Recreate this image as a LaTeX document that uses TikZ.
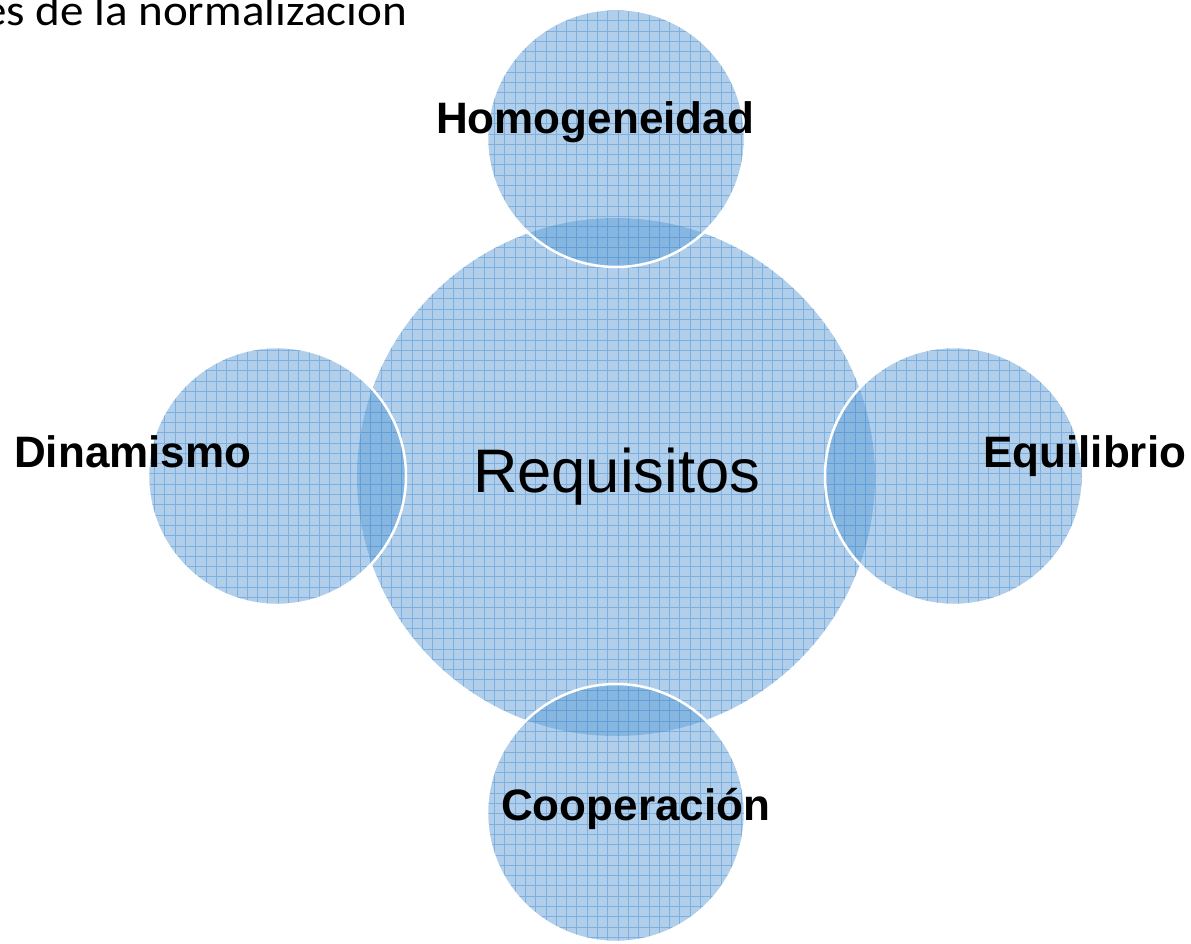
\documentclass[tikz,border=0pt]{standalone}
\usepackage{fontspec}
\setmainfont{Liberation Sans}
\newfontfamily\calib{Carlito}
\definecolor{acc}{RGB}{91,155,213}
\begin{document}
\begin{tikzpicture}[x=1pt,y=-1pt,
  disc/.style={circle, inner sep=0pt, minimum size=#1, fill=acc, fill opacity=0.48},
  rim/.style={draw=white, line width=2.5pt},
  gridln/.style={draw=acc, line width=0.75pt, draw opacity=0.6},
  lbl/.style={font=\fontsize{44}{50}\selectfont\bfseries, anchor=base west, inner sep=0pt}]
\useasboundingbox (0,0) rectangle (1191,943);
% title
\node[anchor=base west, inner sep=0pt, font=\calib\fontsize{44}{50}\selectfont] (title) at (-17,25) {\scalebox{1.07}[1]{es de la normalizacion}};
% central circle
\node[disc=518pt] (req) at (616,477) {};
\begin{scope}
  \path[clip] (req.center) circle[radius=259pt];
  \draw[gridln, step=10.3pt] (340,200) grid (900,750);
\end{scope}
% small circles
\foreach \n/\x/\y in {hom/616/138, din/277/476, equ/954/476, coo/616/813}{
  \node[disc=258pt] (\n) at (\x,\y) {};
  \begin{scope}
    \path[clip] (\n.center) circle[radius=129pt];
    \draw[gridln, step=10.3pt] (\x-140,\y-140) grid (\x+140,\y+140);
  \end{scope}
  \draw[rim] (\n.center) circle[radius=129pt];
}
% labels
\node[font=\fontsize{61.5}{70}\selectfont, anchor=base west, inner sep=0pt] (treq) at (473,492) {Requisitos};
\node[lbl] (thom) at (436,133) {Homogeneidad};
\node[lbl] (tdin) at (14,467) {Dinamismo};
\node[lbl] (tequ) at (983,467) {Equilibrio};
\node[lbl] (tcoo) at (501,820) {Cooperación};
\end{tikzpicture}
\end{document}
